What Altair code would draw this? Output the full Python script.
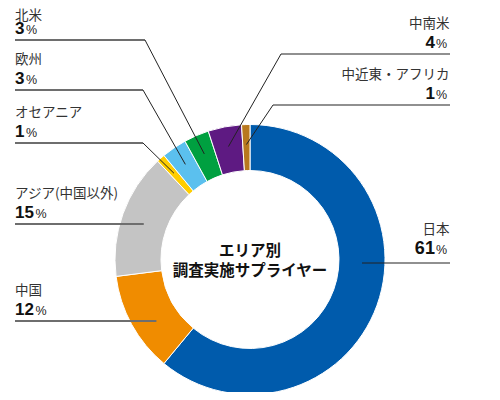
import math
import altair as alt
import pandas as pd

# ---- data ----
regions = ["日本", "中国", "アジア(中国以外)", "オセアニア", "欧州", "北米", "中南米", "中近東・アフリカ"]
shares = [61, 12, 15, 1, 3, 3, 4, 1]
colors = ["#005BAC", "#F08C00", "#C4C4C4", "#FFCD00", "#5BC0EE", "#00A040", "#5E1A82", "#B8781E"]
center_title = ["エリア別", "調査実施サプライヤー"]

# ---- layout (reference pixel coordinates) ----
OFF = 8
W, H = 484, 384
CX, CY = 250, 259.5
R_OUT, R_IN = 135, 89
# side, underline y, elbow x (None = horizontal line straight into the slice)
layout = {
    "日本": ("right", 263, None),
    "中国": ("left", 321, None),
    "アジア(中国以外)": ("left", 224, None),
    "オセアニア": ("left", 143, 143),
    "欧州": ("left", 90, 143),
    "北米": ("left", 40, 145),
    "中南米": ("right", 54, 281),
    "中近東・アフリカ": ("right", 105, 273),
}
LEFT_X = 15
RIGHT_X = 450
NUM = "Liberation Sans, Arial, Noto Sans CJK JP"
JP = "Noto Sans CJK JP"

# ---- derived tables ----
total = sum(shares)
cum = 0
names, nums, pcts, lines_l, lines_r, diags = [], [], [], [], [], []
for r, s in zip(regions, shares):
    mid = (cum + s / 2) / total * 2 * math.pi
    cum += s
    side, uy, ex = layout[r]
    big = r == "日本"
    nsize = 18 if big else 17
    name_y = uy - (33.5 if big else 30)
    name_y = max(name_y, 15.5)
    num_y = uy - (9 if big else 6)
    if ex is None:
        dx = math.sqrt(112 ** 2 - (uy - CY) ** 2)
        end_x = CX - dx if side == "left" else CX + dx
        elbow = None
    else:
        end_x = ex
        elbow = (ex, uy)
    if side == "left":
        lines_l.append({"x": LEFT_X, "y": uy, "x2": end_x, "y2": uy})
        names.append({"t": r, "x": LEFT_X, "y": name_y, "side": "left"})
        nums.append({"t": str(s), "x": LEFT_X, "y": num_y, "side": "left", "big": big})
        pcts.append({"t": "%", "x": LEFT_X + len(str(s)) * 0.556 * nsize + 1.5, "y": num_y, "side": "left"})
    else:
        lines_r.append({"x": end_x, "y": uy, "x2": RIGHT_X, "y2": uy})
        names.append({"t": r, "x": RIGHT_X - 0.5, "y": name_y, "side": "right"})
        nums.append({"t": str(s), "x": RIGHT_X - 3 - 11.1 - 1, "y": num_y, "side": "right", "big": big})
        pcts.append({"t": "%", "x": RIGHT_X - 3, "y": num_y, "side": "right"})
    if elbow is not None:
        diags.append({"x": elbow[0], "y": elbow[1],
                      "x2": CX + 115 * math.sin(mid), "y2": CY - 115 * math.cos(mid)})

arc_df = pd.DataFrame({"region": regions, "share": shares, "idx": range(len(regions))})
names_df = pd.DataFrame(names)
nums_df = pd.DataFrame(nums)
pcts_df = pd.DataFrame(pcts)
title_df = pd.DataFrame({"t": center_title, "x": [CX, CX], "y": [CY - 9, CY + 11.5]})

xs = alt.Scale(domain=[OFF, OFF + W], range=[0, W])
ys = alt.Scale(domain=[OFF, OFF + H], range=[0, H])


def X(f="x"):
    return alt.X(f + ":Q", scale=xs, axis=None)


def Y(f="y"):
    return alt.Y(f + ":Q", scale=ys, axis=None)


arcs = alt.Chart(arc_df).mark_arc(
    innerRadius=R_IN, outerRadius=R_OUT, stroke="white", strokeWidth=1
).encode(
    theta=alt.Theta("share:Q", stack=True),
    color=alt.Color("region:N", scale=alt.Scale(domain=regions, range=colors), legend=None),
    order=alt.Order("idx:Q"),
    x=alt.value(CX - OFF),
    y=alt.value(CY - OFF),
)

ul_left = alt.Chart(pd.DataFrame(lines_l)).mark_rule(color="#6E6E6E", strokeWidth=2).encode(
    x=X(), y=Y(), x2="x2:Q", y2="y2:Q")
ul_right = alt.Chart(pd.DataFrame(lines_r)).mark_rule(color="#222222", strokeWidth=1.2).encode(
    x=X(), y=Y(), x2="x2:Q", y2="y2:Q")
diag = alt.Chart(pd.DataFrame(diags)).mark_rule(color="#222222", strokeWidth=1).encode(
    x=X(), y=Y(), x2="x2:Q", y2="y2:Q")

layers = [arcs, ul_left, ul_right, diag]
for side in ["left", "right"]:
    layers.append(
        alt.Chart(names_df[names_df.side == side]).mark_text(
            align=side, baseline="middle", font=JP, fontSize=13.5, color="#333333"
        ).encode(x=X(), y=Y(), text="t:N")
    )
    for big in [False, True]:
        sub = nums_df[(nums_df.side == side) & (nums_df.big == big)]
        if len(sub):
            layers.append(
                alt.Chart(sub).mark_text(
                    align=side, baseline="alphabetic", font=NUM, fontSize=18 if big else 17,
                    fontWeight="bold", color="#111111"
                ).encode(x=X(), y=Y(), text="t:N")
            )
    layers.append(
        alt.Chart(pcts_df[pcts_df.side == side]).mark_text(
            align=side, baseline="alphabetic", font=NUM, fontSize=12.5, color="#222222"
        ).encode(x=X(), y=Y(), text="t:N")
    )

title = alt.Chart(title_df).mark_text(
    align="center", baseline="middle", font=JP, fontSize=15.5, fontWeight="bold", color="#111111"
).encode(x=X(), y=Y(), text="t:N")
layers.append(title)

chart = alt.layer(*layers).properties(
    width=W, height=H, autosize=alt.AutoSizeParams(type="none"), padding=0
).configure_view(stroke=None)

chart.save("out.html", embed_options={"renderer": "svg", "actions": False})
